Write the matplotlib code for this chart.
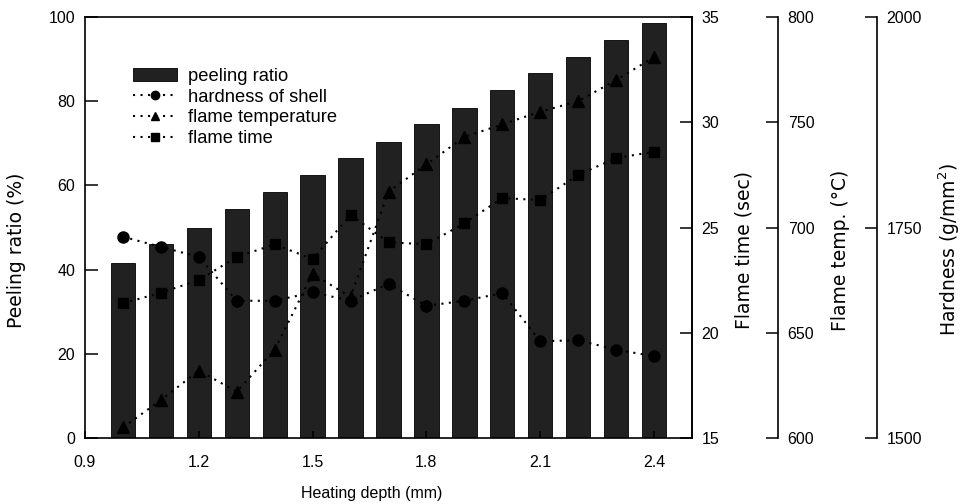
import matplotlib
matplotlib.use("Agg")
import matplotlib.pyplot as plt
from matplotlib.patches import Patch
from matplotlib.lines import Line2D

plt.rcParams['font.family'] = ['Liberation Sans', 'DejaVu Sans']
plt.rcParams['font.size'] = 11.5

# ---- data ----
depth = [1.0, 1.1, 1.2, 1.3, 1.4, 1.5, 1.6, 1.7, 1.8, 1.9, 2.0, 2.1, 2.2, 2.3, 2.4]
peeling = [41.6, 46.0, 50.0, 54.3, 58.4, 62.5, 66.6, 70.4, 74.5, 78.5, 82.7, 86.6, 90.6, 94.5, 98.6]
hardness = [1739, 1727, 1715, 1663, 1663, 1673, 1663, 1683, 1657, 1663, 1672, 1615, 1616, 1605, 1597]
flame_temp = [605, 618, 632, 622, 642, 678, 667, 717, 730, 743, 749, 755, 760, 770, 781]
flame_time = [21.4, 21.9, 22.5, 23.6, 24.2, 23.5, 25.6, 24.3, 24.2, 25.2, 26.4, 26.3, 27.5, 28.3, 28.6]

x_ticks = [0.9, 1.2, 1.5, 1.8, 2.1, 2.4]
x_ticklabels = ['0.9', '1.2', '1.5', '1.8', '2.1', '2.4']
peel_ticks = [0, 20, 40, 60, 80, 100]
time_ticks = [15, 20, 25, 30, 35]
temp_ticks = [600, 650, 700, 750, 800]
hard_ticks = [1500, 1750, 2000]

W, H = 960, 504
fig = plt.figure(figsize=(W / 100, H / 100), dpi=100)
L, R, T, B = 85, 692, 17, 438
ax = fig.add_axes([L / W, (H - B) / H, (R - L) / W, (B - T) / H])

ylab_font = dict(family=['DejaVu Sans'], size=13.5)
xlab_font = dict(family=['Liberation Sans'], size=11.5)
ylab_y = (B - 250) / (B - T)

lw_sp = 1.2
bar_col = (0.0, 0.0, 0.0, 0.87)
ax.bar(depth, peeling, width=0.064, color=bar_col, edgecolor='black', linewidth=0.6, zorder=2)
ax.set_xlim(0.9, 2.5)
ax.set_ylim(0, 100)
ax.set_xticks(x_ticks)
ax.set_xticklabels(x_ticklabels)
ax.set_yticks(peel_ticks)
ax.tick_params(axis='y', direction='in', length=9, width=1.1, pad=7)
ax.tick_params(axis='x', direction='in', length=5, width=1.1, pad=12)
for s in ax.spines.values():
    s.set_linewidth(lw_sp)
ax.set_xlabel('Heating depth (mm)', fontdict=xlab_font)
ax.xaxis.set_label_coords((372 - L) / (R - L), -(486 - B) / (B - T))
ax.set_ylabel('Peeling ratio (%)', fontdict=ylab_font)
ax.yaxis.set_label_coords((26 - L) / (R - L), ylab_y)

dots = (0, (1, 2.6))

def make_twin(pos):
    a = ax.twinx()
    for k in ('left', 'top', 'bottom'):
        a.spines[k].set_visible(False)
    a.spines['right'].set_linewidth(lw_sp)
    if pos is not None:
        a.spines['right'].set_position(('axes', pos))
    a.tick_params(axis='y', direction='in', length=9, width=1.1, pad=7)
    return a

ax_time = make_twin(None)
ax_time.plot(depth, flame_time, marker='s', markersize=7, color='black', linestyle=dots, linewidth=1.5)
ax_time.set_ylim(15, 35)
ax_time.set_yticks(time_ticks)
ax_time.set_ylabel('Flame time (sec)', fontdict=ylab_font, rotation=90, va='top')
ax_time.yaxis.set_label_coords((735 - L) / (R - L), ylab_y)

ax_temp = make_twin((778 - L) / (R - L))
ax_temp.plot(depth, flame_temp, marker='^', markersize=8, color='black', linestyle=dots, linewidth=1.5)
ax_temp.set_ylim(600, 800)
ax_temp.set_yticks(temp_ticks)
ax_temp.set_ylabel('Flame temp. (\u00b0C)', fontdict=ylab_font, rotation=90, va='top')
ax_temp.yaxis.set_label_coords((831 - L) / (R - L), ylab_y)

ax_hard = make_twin((877 - L) / (R - L))
ax_hard.plot(depth, hardness, marker='o', markersize=8, color='black', linestyle=dots, linewidth=1.5)
ax_hard.set_ylim(1500, 2000)
ax_hard.set_yticks(hard_ticks)
ax_hard.set_ylabel('Hardness (g/mm$^2$)', fontdict=ylab_font, rotation=90, va='top')
ax_hard.yaxis.set_label_coords((936 - L) / (R - L), ylab_y)

# bars drawn above the lines (as in the original print)
ax.set_zorder(5)
ax.patch.set_visible(False)

handles = [
    Patch(facecolor=bar_col, edgecolor='black', linewidth=0.6),
    Line2D([], [], marker='o', markersize=6, color='black', linestyle=dots, linewidth=1.5),
    Line2D([], [], marker='^', markersize=6, color='black', linestyle=dots, linewidth=1.5),
    Line2D([], [], marker='s', markersize=5.5, color='black', linestyle=dots, linewidth=1.5),
]
labels = ['peeling ratio', 'hardness of shell', 'flame temperature', 'flame time']
ax.legend(handles, labels, loc='upper left',
          bbox_to_anchor=((133 - L) / (R - L), (B - 68) / (B - T)),
          frameon=False, borderpad=0, borderaxespad=0,
          handlelength=2.4, handletextpad=0.6, labelspacing=0.2,
          fontsize=13.2)

fig.savefig('out.png', dpi=100)
